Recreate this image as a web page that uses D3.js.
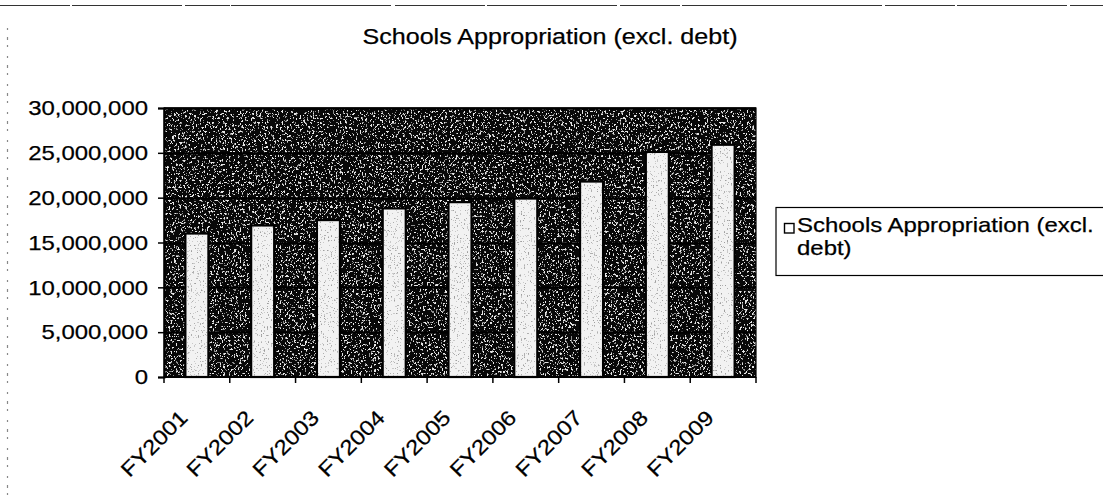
<!DOCTYPE html>
<html>
<head>
<meta charset="utf-8">
<script src="https://cdn.jsdelivr.net/npm/d3@7"></script>
<style>
  html, body { margin: 0; padding: 0; background: #fff; }
  svg { display: block; }
  text { font-family: "Liberation Sans", Arial, sans-serif; fill: #000; stroke: #000; stroke-width: 0.25px; }
</style>
</head>
<body>
<svg id="chart" width="1103" height="502"></svg>
<script>
// Chart data
const title = "Schools Appropriation (excl. debt)";
const seriesName = "Schools Appropriation (excl. debt)";
const categories = ["FY2001", "FY2002", "FY2003", "FY2004", "FY2005", "FY2006", "FY2007", "FY2008", "FY2009"];
const values = [16000000, 16900000, 17500000, 18800000, 19500000, 19900000, 21800000, 25100000, 25900000];
const yTicks = [0, 5000000, 10000000, 15000000, 20000000, 25000000, 30000000];

const svg = d3.select("#chart");
const W = 1103, H = 502;
const plot = { left: 164, right: 756, top: 108, bottom: 377 };
const STRETCH = 1.14;

// widen text horizontally a little, the way the printed chart renders it
function stretch(sel, factor) {
  sel.each(function () {
    const len = this.getComputedTextLength();
    d3.select(this).attr("textLength", len * (factor || STRETCH)).attr("lengthAdjust", "spacingAndGlyphs");
  });
}

const defs = svg.append("defs");

// speckled texture for the plot background: white flecks over black
const fDark = defs.append("filter").attr("id", "speckDark")
  .attr("x", 0).attr("y", 0).attr("width", 1).attr("height", 1);
fDark.append("feTurbulence").attr("type", "fractalNoise").attr("baseFrequency", "0.55 0.45")
  .attr("numOctaves", 3).attr("seed", 7).attr("result", "noise");
fDark.append("feColorMatrix").attr("in", "noise").attr("type", "matrix")
  .attr("values", "0 0 0 0 1  0 0 0 0 1  0 0 0 0 1  1 0 0 0 0").attr("result", "white");
const ctA = fDark.append("feComponentTransfer").attr("in", "white").attr("result", "flecks");
ctA.append("feFuncA").attr("type", "discrete")
  .attr("tableValues", "0 0 0 0 0 0 0 0 0 0 0 0 0.6 1 1 1 1 1 1 1");
fDark.append("feComposite").attr("in", "flecks").attr("in2", "SourceAlpha").attr("operator", "in");

// dark flecks for the bars
const fLight = defs.append("filter").attr("id", "speckLight")
  .attr("x", 0).attr("y", 0).attr("width", 1).attr("height", 1);
fLight.append("feTurbulence").attr("type", "fractalNoise").attr("baseFrequency", "0.7 0.6")
  .attr("numOctaves", 2).attr("seed", 3).attr("result", "noise");
fLight.append("feColorMatrix").attr("in", "noise").attr("type", "matrix")
  .attr("values", "0 0 0 0 0.35  0 0 0 0 0.35  0 0 0 0 0.35  -1 0 0 0 1").attr("result", "dark");
const ctB = fLight.append("feComponentTransfer").attr("in", "dark").attr("result", "flecks");
ctB.append("feFuncA").attr("type", "discrete")
  .attr("tableValues", "0 0 0 0 0 0 0 0 0 0 0 0 0 0.5 0.8 1 1 1 1 1");
fLight.append("feComposite").attr("in", "flecks").attr("in2", "SourceAlpha").attr("operator", "in");

// outer frame edges
svg.append("line").attr("x1", 0).attr("x2", W).attr("y1", 5.5).attr("y2", 5.5)
  .attr("stroke", "#333").attr("stroke-width", 1.2)
  .attr("stroke-dasharray", "70 2 110 3 45 1 160 4 90 2 130 3 60 2 200 3");
svg.append("line").attr("x1", 7.5).attr("x2", 7.5).attr("y1", 28).attr("y2", H)
  .attr("stroke", "#888").attr("stroke-width", 1.2).attr("stroke-dasharray", "2 7 3 5 2 9");

// scales
const x = d3.scaleBand().domain(categories).range([plot.left, plot.right])
  .paddingInner(0.65).paddingOuter(0.325);
const y = d3.scaleLinear().domain([0, 30000000]).range([plot.bottom, plot.top]);

// plot area background
svg.append("rect").attr("x", plot.left).attr("y", plot.top)
  .attr("width", plot.right - plot.left).attr("height", plot.bottom - plot.top).attr("fill", "#080808");
svg.append("rect").attr("x", plot.left).attr("y", plot.top)
  .attr("width", plot.right - plot.left).attr("height", plot.bottom - plot.top)
  .attr("fill", "#fff").attr("filter", "url(#speckDark)").attr("opacity", 0.9);

// gridlines
svg.append("g").selectAll("line").data(yTicks.slice(1)).join("line")
  .attr("x1", plot.left).attr("x2", plot.right)
  .attr("y1", d => Math.round(y(d)) + 0.5).attr("y2", d => Math.round(y(d)) + 0.5)
  .attr("stroke", "#000").attr("stroke-width", 2.5);

// bars
const bars = svg.append("g");
bars.selectAll("rect.base").data(values).join("rect").attr("class", "base")
  .attr("x", (d, i) => x(categories[i]))
  .attr("y", d => y(d))
  .attr("width", x.bandwidth())
  .attr("height", d => y(0) - y(d))
  .attr("fill", "#f2f2f2").attr("stroke", "#000").attr("stroke-width", 2.2);
bars.selectAll("rect.tex").data(values).join("rect").attr("class", "tex")
  .attr("x", (d, i) => x(categories[i]) + 1.2)
  .attr("y", d => y(d) + 1.2)
  .attr("width", x.bandwidth() - 2.4)
  .attr("height", d => y(0) - y(d) - 2.4)
  .attr("fill", "#000").attr("filter", "url(#speckLight)");

// plot border
svg.append("rect").attr("x", plot.left).attr("y", plot.top)
  .attr("width", plot.right - plot.left).attr("height", plot.bottom - plot.top)
  .attr("fill", "none").attr("stroke", "#000").attr("stroke-width", 1.2);

// y axis
const yAxis = d3.axisLeft(y).tickValues(yTicks).tickSize(6).tickPadding(10)
  .tickFormat(d3.format(","));
const gy = svg.append("g").attr("transform", `translate(${plot.left},0)`).call(yAxis);
gy.select(".domain").attr("stroke", "#000").attr("stroke-width", 2);
gy.selectAll(".tick line").attr("stroke", "#000").attr("stroke-width", 1.5);
gy.selectAll(".tick text").attr("font-size", 21).attr("font-family", "Liberation Sans, Arial, sans-serif")
  .attr("fill", "#000").call(stretch);

// x axis: ticks at category boundaries
const gx = svg.append("g").attr("transform", `translate(0,${plot.bottom})`);
gx.append("line").attr("x1", plot.left).attr("x2", plot.right).attr("y1", 0).attr("y2", 0)
  .attr("stroke", "#000").attr("stroke-width", 2);
const boundaries = categories.map(c => x(c) - x.step() * 0.325).concat([plot.right]);
gx.selectAll("line.tk").data(boundaries).join("line").attr("class", "tk")
  .attr("x1", d => d).attr("x2", d => d).attr("y1", 0).attr("y2", 6)
  .attr("stroke", "#000").attr("stroke-width", 1.5);
gx.selectAll("text").data(categories).join("text")
  .attr("transform", d => `translate(${x(d) + x.bandwidth() / 2 - 8},${42}) rotate(-45)`)
  .attr("text-anchor", "end").attr("font-size", 21)
  .text(d => d).call(stretch);

// title
svg.append("text").attr("x", (363 + 737) / 2).attr("y", 44).attr("text-anchor", "middle")
  .attr("font-size", 22).text(title).call(stretch);

// legend
const lg = svg.append("g");
lg.append("rect").attr("x", 776).attr("y", 207.5).attr("width", 400).attr("height", 68)
  .attr("fill", "#fff").attr("stroke", "#000").attr("stroke-width", 1.2);
lg.append("rect").attr("x", 784.5).attr("y", 223.5).attr("width", 9.5).attr("height", 9.5)
  .attr("fill", "#fff").attr("stroke", "#000").attr("stroke-width", 1.4);
const words = seriesName.split(" ");
lg.append("text").attr("x", 797).attr("y", 232).attr("font-size", 21)
  .text(words.slice(0, 3).join(" ")).call(stretch);
lg.append("text").attr("x", 797).attr("y", 255).attr("font-size", 21)
  .text(words.slice(3).join(" ")).call(stretch);
</script>
</body>
</html>
